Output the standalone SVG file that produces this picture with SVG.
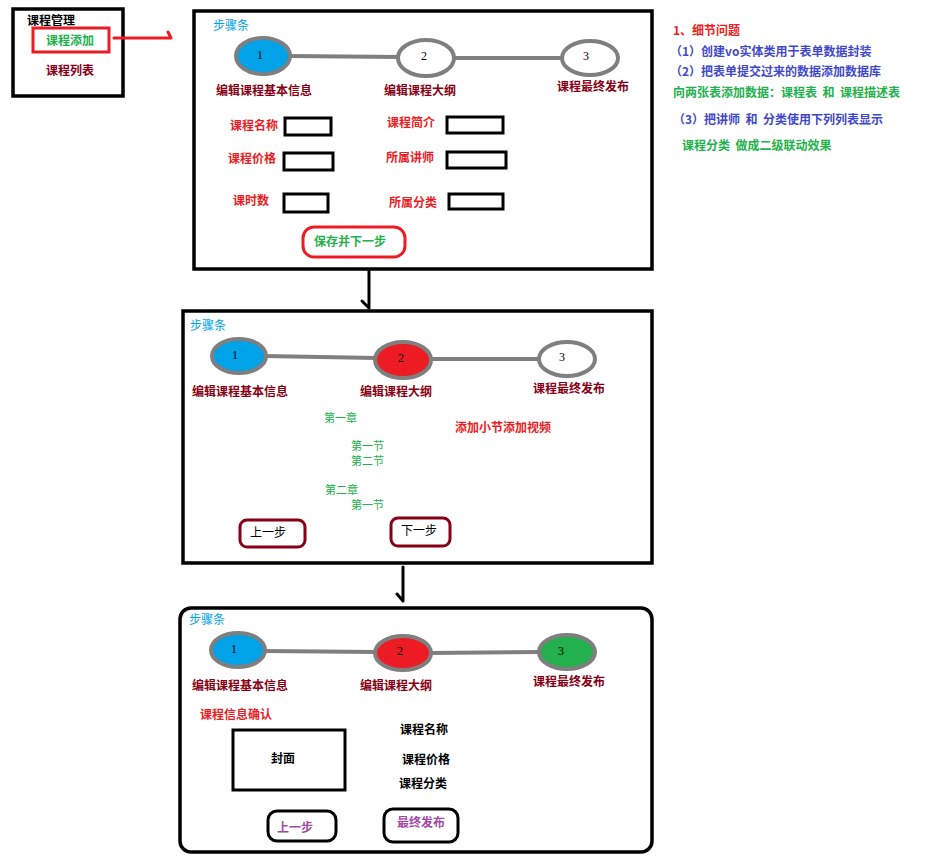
<svg xmlns="http://www.w3.org/2000/svg" width="936" height="856" viewBox="0 0 936 856">
<style>
text{font-family:"Noto Sans CJK SC","Noto Sans",sans-serif;font-size:12px}
.b{font-weight:bold}
.dr{fill:#880015;font-weight:bold}
.rd{fill:#ed1c24;font-weight:bold}
.gr{fill:#22b14c}
.sm{font-size:11px}
.bl{fill:#00a2e8}
.ind{fill:#3f48cc;font-weight:bold}
.pu{fill:#a349a4;font-weight:bold}
.bk{fill:#000;font-weight:bold}
.num{font-family:"Liberation Serif",serif;font-size:12px;text-anchor:middle;fill:#000}
.panel{fill:#fff;stroke:#000;stroke-width:3.5}
.inp{fill:#fff;stroke:#000;stroke-width:3}
.step{stroke:#7f7f7f;stroke-width:4}
.sl{stroke:#7f7f7f;stroke-width:4}
.arr{fill:none;stroke:#000;stroke-width:3;stroke-linecap:round;stroke-linejoin:round}
</style>
<rect width="936" height="856" fill="#fff"/>

<g id="menu">
<rect x="13" y="9" width="110" height="87" fill="#fff" stroke="#000" stroke-width="3.5"/>
<text x="27" y="25" class="bk">课程管理</text>
<rect x="33" y="28" width="76" height="24" fill="#fff" stroke="#ed1c24" stroke-width="3"/>
<text x="46" y="45" class="gr b">课程添加</text>
<text x="46" y="75" class="dr">课程列表</text>
</g>

<g id="panel1">
<rect x="194" y="11" width="458" height="258" class="panel"/>
<text x="213" y="30" class="bl">步骤条</text>
<line x1="288" y1="56" x2="400" y2="57" class="sl"/>
<line x1="452" y1="58" x2="563" y2="58" class="sl"/>
<ellipse cx="263" cy="56" rx="27" ry="18" fill="#00a2e8" class="step"/>
<ellipse cx="426" cy="58" rx="28" ry="18" fill="#fff" class="step"/>
<ellipse cx="590" cy="58" rx="28" ry="17" fill="#fff" class="step"/>
<text x="260" y="59" class="num">1</text>
<text x="424" y="60" class="num">2</text>
<text x="586" y="60" class="num">3</text>
<text x="216" y="95" class="dr">编辑课程基本信息</text>
<text x="384" y="95" class="dr">编辑课程大纲</text>
<text x="557" y="91" class="dr">课程最终发布</text>
<text x="230" y="130" class="rd">课程名称</text>
<rect x="285" y="118" width="46" height="17" class="inp"/>
<text x="387" y="127" class="rd">课程简介</text>
<rect x="447" y="117" width="56" height="16" class="inp"/>
<text x="228" y="163" class="rd">课程价格</text>
<rect x="284" y="153" width="49" height="17" class="inp"/>
<text x="386" y="162" class="rd">所属讲师</text>
<rect x="447" y="152" width="59" height="16" class="inp"/>
<text x="233" y="205" class="rd">课时数</text>
<rect x="284" y="194" width="44" height="18" class="inp"/>
<text x="389" y="207" class="rd">所属分类</text>
<rect x="449" y="194" width="54" height="15" class="inp"/>
<rect x="303" y="227" width="102" height="30" rx="11" fill="#fff" stroke="#ed1c24" stroke-width="3"/>
<text x="314" y="246" class="gr b">保存并下一步</text>
</g>

<g id="notes">
<text x="673" y="35" class="rd">1、细节问题</text>
<text x="670" y="56" class="ind">（1）创建vo实体类用于表单数据封装</text>
<text x="670" y="76" class="ind">（2）把表单提交过来的数据添加数据库</text>
<text x="673" y="97" class="gr b" xml:space="preserve">向两张表添加数据：课程表  和  课程描述表</text>
<text x="673" y="124" class="ind" xml:space="preserve">（3）把讲师  和  分类使用下列列表显示</text>
<text x="682" y="150" class="gr b" xml:space="preserve">课程分类  做成二级联动效果</text>
</g>

<g id="panel2">
<rect x="183" y="311" width="469" height="252" class="panel"/>
<text x="190" y="330" class="bl">步骤条</text>
<line x1="264" y1="356" x2="377" y2="358" class="sl"/>
<line x1="429" y1="359" x2="540" y2="359" class="sl"/>
<ellipse cx="239" cy="356" rx="27" ry="17" fill="#00a2e8" class="step"/>
<ellipse cx="403" cy="360" rx="28" ry="18" fill="#ed1c24" class="step"/>
<ellipse cx="567" cy="359" rx="28" ry="17" fill="#fff" class="step"/>
<text x="235" y="359" class="num">1</text>
<text x="401" y="362" class="num">2</text>
<text x="562" y="361" class="num">3</text>
<text x="192" y="396" class="dr">编辑课程基本信息</text>
<text x="360" y="396" class="dr">编辑课程大纲</text>
<text x="533" y="393" class="dr">课程最终发布</text>
<text x="324" y="422" class="gr sm">第一章</text>
<text x="455" y="432" class="rd">添加小节添加视频</text>
<text x="351" y="450" class="gr sm">第一节</text>
<text x="351" y="465" class="gr sm">第二节</text>
<text x="325" y="494" class="gr sm">第二章</text>
<text x="351" y="509" class="gr sm">第一节</text>
<rect x="240" y="520" width="65" height="27" rx="7" fill="#fff" stroke="#880015" stroke-width="3"/>
<text x="250" y="537" fill="#000">上一步</text>
<rect x="391" y="518" width="59" height="28" rx="7" fill="#fff" stroke="#880015" stroke-width="3"/>
<text x="401" y="535" fill="#000">下一步</text>
</g>

<g id="panel3">
<rect x="180" y="608" width="472" height="244" rx="11" class="panel"/>
<text x="189" y="624" class="bl">步骤条</text>
<line x1="264" y1="651" x2="377" y2="652" class="sl"/>
<line x1="429" y1="653" x2="540" y2="652" class="sl"/>
<ellipse cx="238" cy="650" rx="27" ry="17" fill="#00a2e8" class="step"/>
<ellipse cx="403" cy="653" rx="28" ry="17" fill="#ed1c24" class="step"/>
<ellipse cx="567" cy="652" rx="28" ry="17" fill="#22b14c" class="step"/>
<text x="234" y="653" class="num">1</text>
<text x="400" y="655" class="num">2</text>
<text x="561" y="655" class="num">3</text>
<text x="192" y="690" class="dr">编辑课程基本信息</text>
<text x="360" y="690" class="dr">编辑课程大纲</text>
<text x="533" y="686" class="dr">课程最终发布</text>
<text x="200" y="719" class="rd">课程信息确认</text>
<rect x="233" y="730" width="112" height="60" fill="#fff" stroke="#000" stroke-width="3"/>
<text x="271" y="763" class="bk">封面</text>
<text x="400" y="734" class="bk">课程名称</text>
<text x="402" y="764" class="bk">课程价格</text>
<text x="399" y="788" class="bk">课程分类</text>
<rect x="268" y="811" width="68" height="30" rx="9" fill="#fff" stroke="#000" stroke-width="3"/>
<text x="277" y="832" class="pu">上一步</text>
<rect x="384" y="809" width="74" height="33" rx="9" fill="#fff" stroke="#000" stroke-width="3"/>
<text x="397" y="827" class="pu">最终发布</text>
</g>

<g id="connectors">
<path d="M114,38 L171,38 L168,32" fill="none" stroke="#ed1c24" stroke-width="3" stroke-linecap="round" stroke-linejoin="round"/>
<path d="M369,271 L369,308 L362,301" class="arr"/>
<path d="M403,567 L403,601 L397,594" class="arr"/>
</g>
</svg>
